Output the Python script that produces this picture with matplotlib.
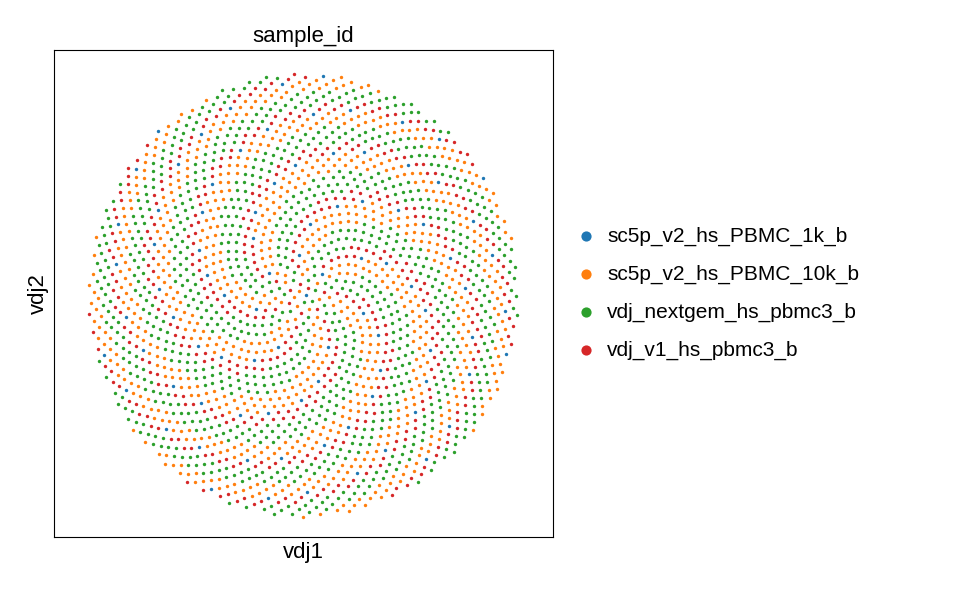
import matplotlib
matplotlib.use("Agg")
import matplotlib.pyplot as plt
import numpy as np

plt.rcParams['font.family'] = ['Liberation Sans', 'DejaVu Sans']

categories = ['sc5p_v2_hs_PBMC_1k_b', 'sc5p_v2_hs_PBMC_10k_b',
              'vdj_nextgem_hs_pbmc3_b', 'vdj_v1_hs_pbmc3_b']
colors = ['#1f77b4', '#ff7f0e', '#2ca02c', '#d62728']
# estimated number of cells per sample
counts = [90, 800, 900, 460]

n = sum(counts)
# deterministic disk layout (sunflower packing) for singleton clonotypes
idx = np.arange(n)
r = np.sqrt((idx + 0.5) / n)
theta = idx * np.pi * (3 - np.sqrt(5))
x = r * np.cos(theta)
y = r * np.sin(theta)

# spread categories over the disk with a low-discrepancy sequence
share = np.cumsum(counts) / n
frac = (idx * 0.7548776662 + idx * 0.5698402910) % 1
cat = np.searchsorted(share, frac, side='right')

fig = plt.figure(figsize=(9.77, 5.92), dpi=100)
ax = fig.add_axes([0.0553, 0.093, 0.5107, 0.8225])
for k, name in enumerate(categories):
    m = cat == k
    ax.scatter(x[m], y[m], s=6, c=colors[k], linewidths=0, label=name)

ax.set_xlim(-1.158, 1.163)
ax.set_ylim(-1.09, 1.104)
ax.set_xticks([])
ax.set_yticks([])
ax.set_xlabel('vdj1', fontsize=16)
ax.set_ylabel('vdj2', fontsize=16)
ax.set_title('sample_id', fontsize=16)
ax.legend(loc='center left', bbox_to_anchor=(1.0, 0.5), frameon=False,
          fontsize=15, markerscale=3, handletextpad=0.0, labelspacing=0.9,
          borderaxespad=0.2)

fig.savefig('out.png', dpi=100)
